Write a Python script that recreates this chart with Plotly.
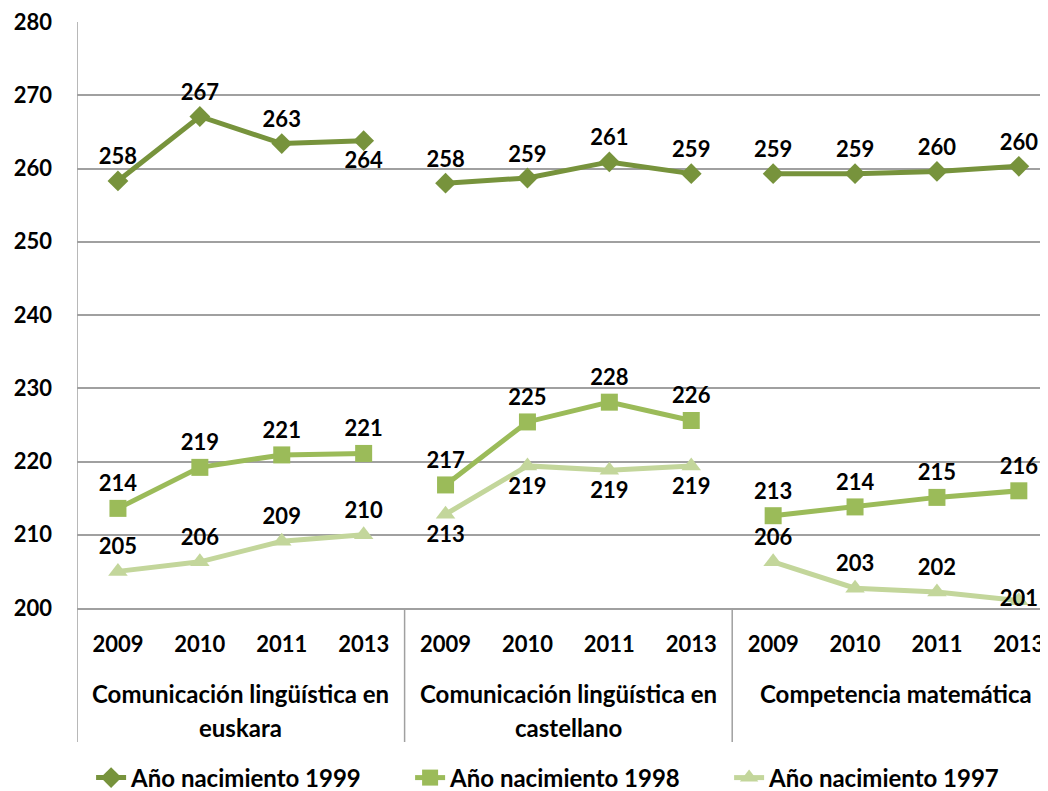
import plotly.graph_objects as go

groups = ["Comunicación lingüística en<br>euskara",
          "Comunicación lingüística en<br>castellano",
          "Competencia matemática"]
years = ["2009", "2010", "2011", "2013"]

series_names = ["Año nacimiento 1999", "Año nacimiento 1998", "Año nacimiento 1997"]
vals_1999 = [258.3, 267.1, 263.4, 263.8, 258.0, 258.7, 260.9, 259.3, 259.3, 259.3, 259.6, 260.3]
vals_1998 = [213.6, 219.2, 220.9, 221.1, 216.8, 225.4, 228.1, 225.6, 212.6, 213.8, 215.1, 216.0]
vals_1997 = [205.0, 206.3, 209.1, 210.0, 212.8, 219.4, 218.8, 219.4, 206.3, 202.7, 202.2, 201.0]

# category keys: one per (group, year)
cat_keys = [f"{g}|{y}" for g in range(len(groups)) for y in years]
cat_text = [y for g in range(len(groups)) for y in years]

colors = ["#77933C", "#9BBB59", "#C3D69B"]
symbols = ["diamond", "square", "triangle-up"]
msizes = [16, 17, 17]
T, B, M = "top center", "bottom center", "middle right"
label_pos = [
    [T, T, T, B, T, T, T, T, T, T, T, T],
    [T, T, T, T, T, T, T, T, T, T, T, T],
    [T, T, T, T, B, B, B, B, T, T, T, "middle center"],
]

FF = "Lato"
NUM = 22
TXT = 24
fig = go.Figure()
all_vals = [vals_1999, vals_1998, vals_1997]
n = len(years)
for s, (name, vals) in enumerate(zip(series_names, all_vals)):
    for g in range(len(groups)):
        ys = vals[g * n:(g + 1) * n]
        fig.add_trace(go.Scatter(
            x=cat_keys[g * n:(g + 1) * n],
            y=ys,
            name=name,
            legendgroup=name,
            showlegend=(g == 0),
            mode="lines+markers+text",
            line=dict(color=colors[s], width=5),
            marker=dict(symbol=symbols[s], size=msizes[s], color=colors[s]),
            text=[f"{v:.0f}" for v in ys],
            textposition=label_pos[s][g * n:(g + 1) * n],
            textfont=dict(family=FF, size=NUM, color="black", weight="bold"),
            cliponaxis=False,
            hoverinfo="skip",
        ))

# The page body adds an 8px offset; figure is sized to fit the window.
OFF = 8
W, H = 1048 - OFF, 791 - OFF
top_px, bot_px = 22, 608          # page coordinates of plot area
ph = bot_px - top_px
def py(px):
    return (bot_px - px) / ph

grid_c = "#A0A0A0"
# group labels and dividers
for g, gname in enumerate(groups):
    center = g * n + (n - 1) / 2
    for li, line in enumerate(gname.split("<br>")):
        fig.add_annotation(x=center, xref="x", y=py(693 + 34 * li), yref="paper",
                           text=line, showarrow=False, xanchor="center", yanchor="middle",
                           font=dict(family=FF, size=TXT, color="black", weight="bold"))
for g in range(len(groups)):
    fig.add_shape(type="line", xref="x", yref="paper", x0=g * n - 0.5, x1=g * n - 0.5,
                  y0=py(742), y1=(0 if g else 1), line=dict(color=grid_c, width=1.5))

fig.update_layout(
    width=W, height=H,
    paper_bgcolor="white", plot_bgcolor="white",
    margin=dict(l=77 - OFF, r=0, t=top_px - OFF, b=H - (bot_px - OFF)),
    font=dict(family=FF, size=TXT, color="black", weight="bold"),
    showlegend=True,
    legend=dict(orientation="h", x=0.54, xanchor="center", xref="container",
                y=1 - (778 - OFF) / H, yanchor="middle", yref="container",
                font=dict(family=FF, size=TXT, color="black", weight="bold"),
                entrywidth=274, traceorder="normal"),
)
fig.update_yaxes(range=[200, 280], dtick=10, showgrid=True, gridcolor=grid_c, gridwidth=1.5,
                 showline=False, zeroline=False, automargin=False,
                 ticks="", ticklabelstandoff=24, ticklabeloverflow="allow",
                 tickfont=dict(family=FF, size=NUM, color="black", weight="bold"))
fig.update_xaxes(type="category", categoryorder="array", categoryarray=cat_keys,
                 tickvals=cat_keys, ticktext=cat_text,
                 range=[-0.5, 11.356], showgrid=False, automargin=False,
                 showline=True, linecolor=grid_c, linewidth=1.5,
                 ticks="", ticklabelstandoff=16, tickangle=0, ticklabeloverflow="allow",
                 tickfont=dict(family=FF, size=NUM, color="black", weight="bold"))

fig.write_html("out.html")
